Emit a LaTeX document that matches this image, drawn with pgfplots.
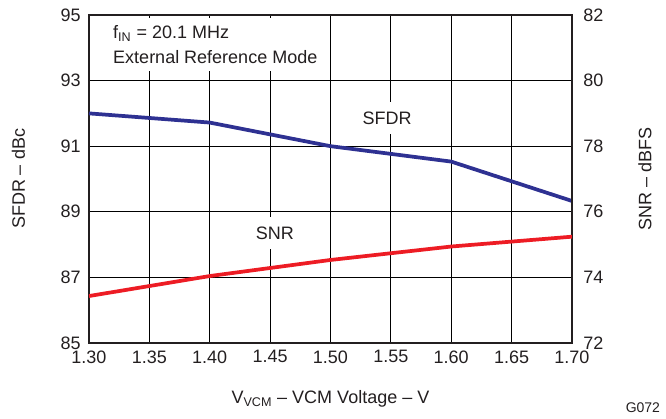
\documentclass[border=0pt]{standalone}
\usepackage{fontspec}
\setmainfont{Liberation Sans}
\usepackage{pgfplots}
\pgfplotsset{compat=1.18}
\definecolor{sfdr}{RGB}{46,49,146}
\definecolor{snr}{RGB}{237,28,36}
\definecolor{frame}{RGB}{35,31,32}
\begin{document}
\fontsize{13.5}{16}\selectfont
\begin{tikzpicture}
\begin{axis}[name=ax, scale only axis, width=362.25pt, height=246pt,
  xmin=1.3, xmax=1.7, ymin=85, ymax=95,
  xtick={1.30,1.35,1.40,1.45,1.50,1.55,1.60,1.65,1.70},
  ytick={85,87,89,91,93,95},
  /pgf/number format/assume math mode=true,
  xticklabel style={/pgf/number format/fixed,/pgf/number format/fixed zerofill,/pgf/number format/precision=2, text=frame, yshift=-1pt},
  yticklabel style={text=frame, xshift=-1.5pt},
  grid=major, major grid style={black, line width=0.6pt},
  axis line style={frame, line width=1.5pt},
  tick style={draw=none},
  ylabel={SFDR – dBc},
  ylabel style={at={(axis description cs:-0.1463,0.5)}, anchor=center, rotate=0, text=frame},
  xlabel={V\textsubscript{VCM} – VCM Voltage – V},
  xlabel style={at={(axis description cs:0.5,-0.1715)}, anchor=center, text=frame},
]
\addplot[sfdr, line width=2.8pt] coordinates {(1.30,92.00) (1.40,91.72) (1.50,91.00) (1.60,90.53) (1.70,89.33)};
\node[fill=white, inner xsep=3pt, inner ysep=7pt, text=frame] at (axis cs:1.547,91.86) {SFDR};
\node[fill=white, inner xsep=3pt, inner ysep=7pt, text=frame] at (axis cs:1.454,88.35) {SNR};
\node[fill=white, anchor=west, align=left, inner xsep=0pt, inner ysep=0pt, minimum height=39.75pt, text=frame]
  at ([xshift=1pt]rel axis cs:0,0.909) {\hspace{17pt}f\textsubscript{IN} = 20.1 MHz\\[3pt]\hspace{17pt}External Reference Mode\hspace{16pt}};
\end{axis}
\begin{axis}[scale only axis, width=362.25pt, height=246pt,
  xmin=1.3, xmax=1.7, ymin=72, ymax=82,
  ytick={72,74,76,78,80,82},
  /pgf/number format/assume math mode=true,
  yticklabel style={text=frame, xshift=4pt},
  axis x line=none, axis y line*=right,
  axis line style={frame, line width=1.5pt, -},
  tick style={draw=none},
  ylabel={SNR – dBFS},
  ylabel style={at={(axis description cs:1.1511,0.5)}, anchor=center, text=frame},
]
\addplot[snr, line width=2.8pt] coordinates {(1.30,73.43) (1.40,74.04) (1.50,74.53) (1.60,74.94) (1.70,75.24)};
\end{axis}
\node[font=\fontsize{10.5}{12}\selectfont, text=frame] at ([shift={(415.5pt,-48.75pt)}]ax.south west) {G072};
\path[use as bounding box] ([shift={(-66.75pt,-57pt)}]ax.south west) rectangle ([shift={(432.75pt,257.25pt)}]ax.south west);
\end{tikzpicture}
\end{document}
